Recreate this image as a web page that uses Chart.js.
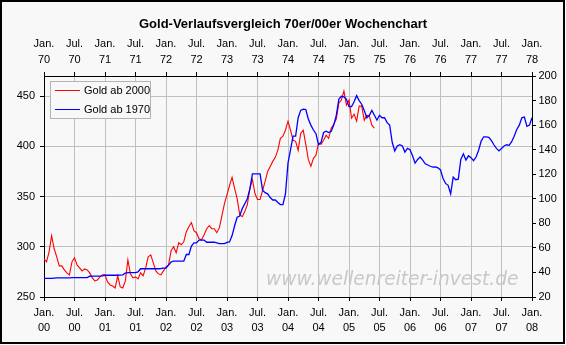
<!DOCTYPE html>
<html>
<head>
<meta charset="utf-8">
<script src="https://cdn.jsdelivr.net/npm/chart.js@4"></script>
<style>
  html, body { margin: 0; padding: 0; background: #fff; }
  canvas { display: block; }
</style>
</head>
<body>
<canvas id="chart" width="566" height="345"></canvas>
<script>
// weekly gold prices, read every half month (x = months since January)
const monthStep = 0.5;

// Gold ab 2000 (USD, left axis), Jan 2000 - May 2005
const gold2000 = [
  288, 285, 295, 311, 298, 290, 281, 281, 277, 274, 272, 285,
  289, 282, 279, 276, 278, 277, 274, 269, 266, 267, 270, 272,
  272, 265, 262, 261, 259, 271, 260, 259, 266, 287, 273, 269,
  270, 268, 274, 271, 279, 290, 292, 284, 276, 273, 272, 276,
  280, 282, 296, 300, 294, 304, 302, 305, 315, 320, 324, 316,
  314, 308, 307, 312, 318, 321, 318, 318, 314, 319, 331, 343,
  352, 361, 369, 358, 348, 332, 330, 335, 342, 358, 367, 353,
  347, 347, 356, 365, 375, 380, 385, 389, 396, 408, 410, 416,
  425, 416, 406, 405, 396, 413, 416, 402, 387, 380, 388, 391,
  403, 402, 406, 411, 408, 418, 422, 427, 443, 446, 455, 441,
  446, 428, 432, 425, 440, 440, 426, 431, 430, 421, 418
];

// Gold ab 1970 (USD, right axis), Jan 1970 - Jan 1978
const gold1970 = [
  35.1, 35.1, 35.1, 35.1, 35.3, 35.5, 35.5, 35.5, 35.5, 35.5, 35.6, 35.8,
  35.8, 35.8, 35.8, 35.8, 35.8, 35.8, 36.9, 37.0, 37.0, 37.0, 37.0, 37.2,
  37.7, 37.7, 37.7, 37.7, 37.7, 37.7, 37.8, 38.0, 39.5, 39.9, 39.9, 39.9,
  39.9, 40.5, 43.0, 43.0, 43.0, 43.0, 43.0, 43.0, 43.0, 43.0, 43.2, 43.5,
  43.5, 46.0, 48.5, 49.2, 49.2, 49.2, 49.2, 49.2, 54.6, 54.6, 61.4, 64.1,
  64.1, 66.4, 66.4, 66.4, 64.6, 64.6, 64.6, 64.6, 64.1, 63.5, 63.5, 63.5,
  64.5, 64.8, 70, 78, 85, 86, 92, 96, 100, 108, 120.3, 120.3,
  120.3, 120.3, 107, 105, 104, 101, 99, 99, 97, 95.3, 95.3, 104,
  129, 140, 151, 151, 166, 172, 173, 172.7, 165, 160, 156, 153,
  144, 146, 154, 155, 154, 155, 160, 168, 181, 183.5, 183, 181,
  175, 175, 179, 184, 180, 177, 172, 166, 168, 172, 168, 164,
  168, 166, 166, 162, 160, 146, 139, 143, 144, 143, 138, 141,
  140, 135, 129, 132, 134, 131.5, 128.5, 127.5, 126.5, 125.8, 126, 125.2,
  123.5, 116.5, 112.5, 111, 104, 117.6, 115.5, 116, 132, 136.6, 131.5, 135,
  133.5, 131, 134, 139.5, 147, 150.5, 150.5, 150, 147.5, 144, 141, 139,
  141, 143, 144, 143.5, 146.5, 151, 156.5, 160, 166, 166.5, 159, 160,
  166
];

// tick labels
const halfYears = ['Jan.', 'Jul.'];
const years2000 = ['00', '01', '02', '03', '04', '05', '06', '07', '08'];
const years1970 = ['70', '71', '72', '73', '74', '75', '76', '77', '78'];
const leftTicks = [250, 300, 350, 400, 450];

const fontFamily = "'Liberation Sans', Arial, sans-serif";
const gridGray = '#c0c0c0';
const none = 'rgba(0,0,0,0)';

function toPoints(values) {
  return values.map((v, i) => ({ x: i * monthStep, y: v }));
}

function dateLabel(years) {
  return function (value) {
    const n = Math.round(value / 6);
    return [halfYears[n % 2], years[Math.floor(n / 2)]];
  };
}

// light grey panel with black frame
const frame = {
  id: 'frame',
  beforeDraw(chart) {
    const ctx = chart.ctx;
    ctx.save();
    ctx.fillStyle = '#fff';
    ctx.fillRect(0, 0, chart.width, chart.height);
    ctx.fillStyle = '#f8f8f8';
    ctx.fillRect(1, 1, 563, 342);
    ctx.strokeStyle = '#000';
    ctx.lineWidth = 2;
    ctx.strokeRect(1, 1, 563, 342);
    ctx.restore();
  }
};

// site watermark under the lines
const watermark = {
  id: 'watermark',
  beforeDatasetsDraw(chart) {
    const ctx = chart.ctx;
    ctx.save();
    ctx.font = "italic 18.6px 'DejaVu Sans'";
    ctx.fillStyle = '#c8c8c8';
    ctx.textBaseline = 'alphabetic';
    ctx.fillText('www.wellenreiter-invest.de', 266, 285);
    ctx.restore();
  }
};

// boxed legend in the upper left corner of the plot
const legendBox = {
  id: 'legendBox',
  afterDatasetsDraw(chart) {
    const ctx = chart.ctx;
    const area = chart.chartArea;
    const x = area.left + 6.5, y = area.top + 5.5;
    ctx.save();
    ctx.fillStyle = '#f8f8f8';
    ctx.fillRect(x, y, 100, 37);
    ctx.strokeStyle = '#b4b4b4';
    ctx.lineWidth = 1;
    ctx.strokeRect(x, y, 100, 37);
    ctx.font = '11px ' + fontFamily;
    ctx.textBaseline = 'middle';
    ctx.fillStyle = '#000';
    chart.data.datasets.forEach((ds, i) => {
      const ly = y + 9 + i * 19;
      ctx.strokeStyle = ds.borderColor;
      ctx.lineWidth = 1;
      ctx.beginPath();
      ctx.moveTo(x + 4.5, ly);
      ctx.lineTo(x + 29.5, ly);
      ctx.stroke();
      ctx.fillText(ds.label, x + 33.5, ly + 0.5);
    });
    ctx.restore();
  }
};

new Chart(document.getElementById('chart'), {
  type: 'line',
  data: {
    datasets: [{
      label: 'Gold ab 2000',
      data: toPoints(gold2000),
      xAxisID: 'x',
      yAxisID: 'y',
      borderColor: '#ff0000',
      borderWidth: 1.1,
      pointRadius: 0,
      tension: 0,
      order: 1
    }, {
      label: 'Gold ab 1970',
      data: toPoints(gold1970),
      xAxisID: 'x',
      yAxisID: 'y2',
      borderColor: '#0000ff',
      borderWidth: 1.3,
      pointRadius: 0,
      tension: 0,
      order: 0
    }]
  },
  options: {
    responsive: false,
    animation: false,
    events: [],
    layout: { padding: 0 },
    plugins: {
      legend: { display: false },
      tooltip: { enabled: false },
      title: {
        display: true,
        text: 'Gold-Verlaufsvergleich 70er/00er Wochenchart',
        color: '#000',
        font: { family: fontFamily, size: 13, weight: 'bold', lineHeight: 1.2 },
        padding: { top: 17, bottom: 0 }
      }
    },
    scales: {
      x: {
        type: 'linear',
        position: 'bottom',
        min: 0,
        max: 96,
        afterFit: s => { s.height = 48; },
        grid: {
          color: c => (c.tick && (c.tick.value === 0 || c.tick.value === 96)) ? none : gridGray,
          tickColor: '#000',
          tickLength: 4
        },
        border: { color: '#000' },
        ticks: {
          stepSize: 6,
          autoSkip: false,
          maxRotation: 0,
          padding: 4.75,
          color: '#000',
          font: { family: fontFamily, size: 11, lineHeight: '14.5px' },
          callback: dateLabel(years2000)
        }
      },
      x2: {
        type: 'linear',
        position: 'top',
        min: 0,
        max: 96,
        afterFit: s => { s.height = 43.4; },
        grid: { drawOnChartArea: false, tickColor: '#000', tickLength: 4 },
        border: { color: '#000' },
        ticks: {
          stepSize: 6,
          autoSkip: false,
          maxRotation: 0,
          padding: 4,
          color: '#000',
          font: { family: fontFamily, size: 11, lineHeight: '16px' },
          callback: dateLabel(years1970)
        }
      },
      y: {
        position: 'left',
        min: 250,
        max: 470,
        afterFit: s => { s.width = 44; },
        afterBuildTicks: s => { s.ticks = leftTicks.map(v => ({ value: v })); },
        grid: {
          color: c => (c.tick && c.tick.value === 250) ? none : gridGray,
          tickColor: '#000',
          tickLength: 4
        },
        border: { color: '#000' },
        ticks: { padding: 5, color: '#000', font: { family: fontFamily, size: 11 } }
      },
      y2: {
        position: 'right',
        min: 20,
        max: 200,
        afterFit: s => { s.width = 34; },
        grid: { drawOnChartArea: false, tickColor: '#000', tickLength: 4 },
        border: { color: '#000' },
        ticks: { stepSize: 20, padding: 2.5, color: '#000', font: { family: fontFamily, size: 11 } }
      }
    }
  },
  plugins: [frame, watermark, legendBox]
});
</script>
</body>
</html>
